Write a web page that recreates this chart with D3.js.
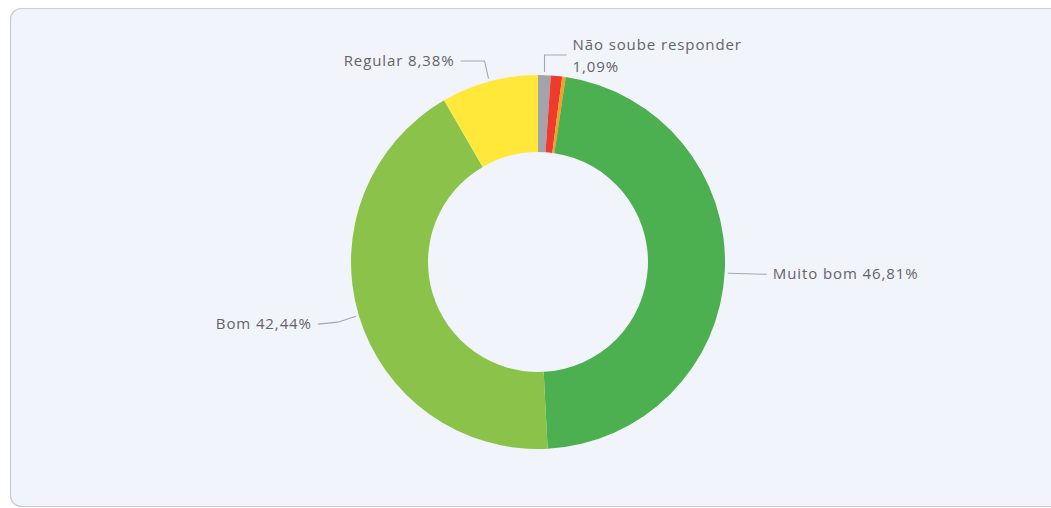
<!DOCTYPE html>
<html>
<head>
<meta charset="utf-8">
<script src="https://cdn.jsdelivr.net/npm/d3@7"></script>
<style>
  html, body { margin: 0; padding: 0; background: #ffffff; }
  svg { display: block; }
</style>
</head>
<body>
<svg id="chart" width="1051" height="508"></svg>
<script>
// Avaliação — distribuição das respostas
const categories = ["Não soube responder", "Ruim", "Péssimo", "Muito bom", "Bom", "Regular"];
const values = [1.09, 0.98, 0.30, 46.81, 42.44, 8.38];
const colors = ["#a3a3aa", "#ee3b2e", "#f6a21e", "#4caf50", "#8bc34a", "#ffe83a"];
// Rótulos exibidos (as duas menores fatias não têm rótulo)
const labelLines = [["Não soube responder", "1,09%"], null, null, ["Muito bom 46,81%"], ["Bom 42,44%"], ["Regular 8,38%"]];

const svg = d3.select("#chart");
const W = 1051, H = 508;

// Painel de fundo
svg.append("rect")
  .attr("x", 10.5).attr("y", 8.5)
  .attr("width", W + 20).attr("height", H - 10)
  .attr("rx", 11).attr("ry", 11)
  .attr("fill", "#f2f4fb")
  .attr("stroke", "#c9cbd6")
  .attr("stroke-width", 1.2);

const cx = 538, cy = 262;
const rOuter = 187, rInner = 110;

const data = categories.map((c, i) => ({ cat: c, value: values[i], color: colors[i], lines: labelLines[i] }));

const pie = d3.pie().value(d => d.value).sort(null).startAngle(0).endAngle(2 * Math.PI);
const arcs = pie(data);
const arc = d3.arc().innerRadius(rInner).outerRadius(rOuter);

const g = svg.append("g").attr("transform", `translate(${cx},${cy})`);

g.selectAll("path.slice")
  .data(arcs)
  .join("path")
  .attr("class", "slice")
  .attr("d", arc)
  .attr("fill", d => d.data.color);

// Linhas-guia e rótulos
const labelFont = "'Open Sans', 'Noto Sans', sans-serif";
const textColor = "#646466";
const lineColor = "#a6a6ae";

function anchor(a, r) {
  const m = (a.startAngle + a.endAngle) / 2;
  return [r * Math.sin(m), -r * Math.cos(m)];
}

// Geometria das guias, relativa ao ponto de saída de cada fatia
const guides = {
  "Não soube responder": p => [p, [p[0], -207], [p[0] + 22, -207]],
  "Muito bom": p => [[p[0], p[1] + 2], [p[0] + 39, p[1] + 3]],
  "Bom": p => [p, [p[0] - 18, p[1] + 6], [p[0] - 38, p[1] + 8]],
  "Regular": p => [p, [p[0] - 4, -201], [p[0] - 28, -201]]
};

const lineGen = d3.line();

arcs.forEach(a => {
  if (!a.data.lines) return;
  const p = anchor(a, rOuter + 3);
  const pts = guides[a.data.cat](p);
  g.append("path")
    .attr("d", lineGen(pts))
    .attr("fill", "none")
    .attr("stroke", lineColor)
    .attr("stroke-width", 1.1);

  const end = pts[pts.length - 1];
  const right = end[0] > pts[pts.length - 2][0];
  const t = g.append("text")
    .attr("font-family", labelFont)
    .attr("font-size", 15)
    .attr("letter-spacing", 0.9)
    .attr("fill", textColor)
    .attr("text-anchor", right ? "start" : "end");
  const n = a.data.lines.length;
  a.data.lines.forEach((line, i) => {
    t.append("tspan")
      .attr("x", end[0] + (right ? 6 : -6))
      .attr("y", end[1] + 5 + (i - (n - 1) / 2) * 22 + (n > 1 ? 1 : 0))
      .text(line);
  });
});
</script>
</body>
</html>
